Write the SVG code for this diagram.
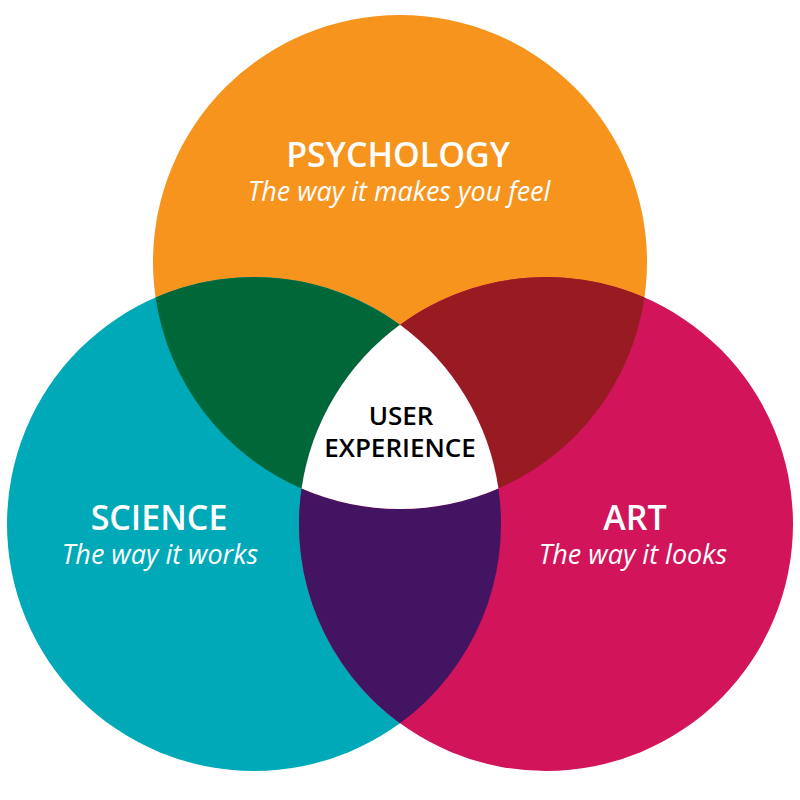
<svg xmlns="http://www.w3.org/2000/svg" width="800" height="800" viewBox="0 0 800 800">
<style>
.title{font-family:"Open Sans","Liberation Sans",sans-serif;font-weight:600;font-size:34px;fill:#fff;text-anchor:middle}
.sub{font-family:"Open Sans","Liberation Sans",sans-serif;font-style:italic;font-size:27px;fill:#fff;text-anchor:middle}
.ux{font-family:"Open Sans","Liberation Sans",sans-serif;font-weight:600;font-size:26px;fill:#000;text-anchor:middle}
</style>
<rect width="800" height="800" fill="#fff"/>
<g id="psychology">
<circle cx="400" cy="262" r="247" fill="#F7941E"/>
</g>
<g id="science">
<circle cx="254" cy="524" r="247" fill="#00A9B7"/>
</g>
<g id="art">
<circle cx="546" cy="524" r="247" fill="#D2145A"/>
</g>
<g id="overlaps">
<path id="psych-science" d="M155.6,297.5 A247,247 0 0 1 400,324.8 A247,247 0 0 0 301.6,488.5 A247,247 0 0 1 155.6,297.5 Z" fill="#006838"/>
<path id="psych-art" d="M644.4,297.5 A247,247 0 0 0 400,324.8 A247,247 0 0 1 498.4,488.5 A247,247 0 0 0 644.4,297.5 Z" fill="#981B22"/>
<path id="science-art" d="M301.6,488.5 A247,247 0 0 0 498.4,488.5 A247,247 0 0 1 400,723.2 A247,247 0 0 1 301.6,488.5 Z" fill="#431462"/>
</g>
<g id="user-experience">
<path d="M400,324.8 A247,247 0 0 0 301.6,488.5 A247,247 0 0 0 498.4,488.5 A247,247 0 0 0 400,324.8 Z" fill="#fff"/>
<text class="ux" x="401" y="425">USER</text>
<text class="ux" x="400" y="457">EXPERIENCE</text>
</g>
<g id="labels">
<text class="title" x="398" y="167">PSYCHOLOGY</text>
<text class="sub" x="399" y="201">The way it makes you feel</text>
<text class="title" x="159" y="530">SCIENCE</text>
<text class="sub" x="160" y="564">The way it works</text>
<text class="title" x="635" y="530">ART</text>
<text class="sub" x="633" y="564">The way it looks</text>
</g>
</svg>
